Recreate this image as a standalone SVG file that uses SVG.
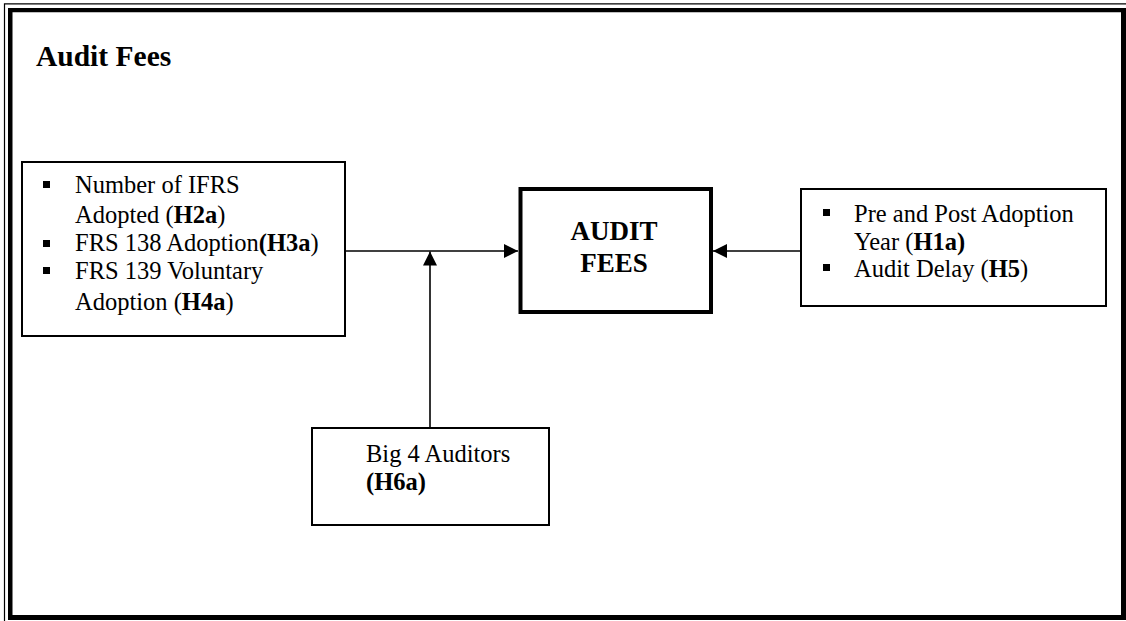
<svg xmlns="http://www.w3.org/2000/svg" width="1126" height="621" viewBox="0 0 1126 621">
<style>
.t{font-family:"Liberation Serif","Times New Roman",serif;font-size:24.5px;fill:#000}
.b{font-weight:bold}
.box{fill:#fff;stroke:#000;stroke-width:2}
.ln{stroke:#000;stroke-width:1.6;fill:none}
</style>
<defs>
<marker id="ah" viewBox="0 0 14 14" refX="14" refY="7" markerWidth="14" markerHeight="14" markerUnits="userSpaceOnUse" orient="auto">
<path d="M0,0 L14,7 L0,14 z" fill="#000"/>
</marker>
</defs>
<rect x="0" y="0" width="1126" height="621" fill="#fff"/>
<g id="frame">
<path d="M8,8 H1126 V620 H8 Z M12.5,12.3 V615 H1121 V12.3 Z" fill="#000" fill-rule="evenodd"/>
<path d="M4.5,621 V3.8 H1126" fill="none" stroke="#000" stroke-width="1.2"/>
</g>
<text class="t b" x="36" y="66" style="font-size:29.5px">Audit Fees</text>
<g id="connectors">
<line class="ln" x1="345" y1="251" x2="518" y2="251" marker-end="url(#ah)"/>
<line class="ln" x1="801" y1="251" x2="713" y2="251" marker-end="url(#ah)"/>
<line class="ln" x1="430" y1="428" x2="430" y2="251.5" marker-end="url(#ah)"/>
</g>
<g id="left-box">
<rect class="box" x="22" y="162" width="323" height="174"/>
<rect x="43" y="181" width="7" height="7"/>
<rect x="43" y="240" width="7" height="7"/>
<rect x="43" y="267" width="7" height="7"/>
<text class="t" x="75" y="193">Number of IFRS</text>
<text class="t" x="75" y="223">Adopted (<tspan class="b">H2a</tspan>)</text>
<text class="t" x="75" y="251">FRS 138 Adoption<tspan class="b">(H3a</tspan>)</text>
<text class="t" x="75" y="279">FRS 139 Voluntary</text>
<text class="t" x="75" y="310">Adoption (<tspan class="b">H4a</tspan>)</text>
</g>
<g id="audit-fees">
<rect x="520.5" y="189" width="190.5" height="123" fill="#fff" stroke="#000" stroke-width="4"/>
<text class="t b" x="614" y="240" text-anchor="middle" style="font-size:27px">AUDIT</text>
<text class="t b" x="614" y="272" text-anchor="middle" style="font-size:27px">FEES</text>
</g>
<g id="right-box">
<rect class="box" x="801" y="189" width="305" height="117"/>
<rect x="823" y="209" width="7" height="7"/>
<rect x="823" y="264" width="7" height="7"/>
<text class="t" x="854" y="222">Pre and Post Adoption</text>
<text class="t" x="854" y="250">Year (<tspan class="b">H1a)</tspan></text>
<text class="t" x="854" y="277">Audit Delay (<tspan class="b">H5</tspan>)</text>
</g>
<g id="big4-box">
<rect class="box" x="312" y="428" width="237" height="97"/>
<text class="t" x="366" y="462">Big 4 Auditors</text>
<text class="t b" x="366" y="490">(H6a)</text>
</g>
</svg>
